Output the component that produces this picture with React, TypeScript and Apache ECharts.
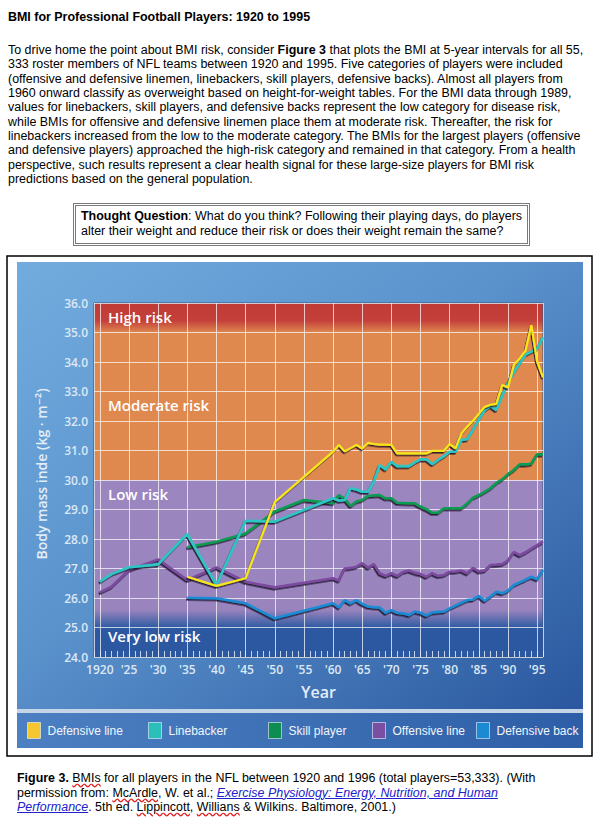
import React, { useEffect, useRef } from "react";
import * as echarts from "echarts";

const X_MIN = 1919;
const X_MAX = 1996;
const Y_MIN = 24;
const Y_MAX = 36;

const seriesNames = ["Defensive line", "Linebacker", "Skill player", "Offensive line", "Defensive back"];

const defensiveLine: [number, number][] = [
  [1935, 26.72], [1940, 26.41], [1945, 26.67], [1950, 29.25], [1960, 30.96], [1961, 31.19], [1962, 30.97],
  [1963, 31.08], [1964, 31.19], [1965, 31.07], [1966, 31.26], [1967, 31.22], [1968, 31.2], [1969, 31.2],
  [1970, 31.19], [1971, 30.9], [1972, 30.9], [1973, 30.9], [1974, 30.9], [1975, 30.9], [1976, 30.9],
  [1977, 30.99], [1978, 30.99], [1979, 30.99], [1980, 31.22], [1981, 31.07], [1982, 31.58], [1983, 31.81],
  [1984, 32.01], [1985, 32.25], [1986, 32.48], [1987, 32.55], [1988, 32.58], [1989, 33.22], [1990, 33.14],
  [1991, 33.9], [1992, 34.12], [1993, 34.38], [1994, 35.25], [1995, 34.01], [1996, 33.48],
];

const linebacker: [number, number][] = [
  [1920, 26.55], [1922, 26.81], [1925, 27.04], [1930, 27.14], [1935, 28.17], [1940, 26.44], [1945, 28.62],
  [1950, 28.59], [1960, 29.38], [1961, 29.3], [1962, 29.32], [1963, 29.72], [1964, 29.68], [1965, 29.6],
  [1966, 29.6], [1967, 29.94], [1968, 30.51], [1969, 30.36], [1970, 30.62], [1971, 30.47], [1972, 30.47],
  [1973, 30.47], [1974, 30.6], [1975, 30.7], [1976, 30.7], [1977, 30.54], [1978, 30.68], [1979, 30.81],
  [1980, 30.96], [1981, 30.96], [1982, 31.36], [1983, 31.38], [1984, 31.7], [1985, 32.05], [1986, 32.37],
  [1987, 32.51], [1988, 32.37], [1989, 32.85], [1990, 33.3], [1991, 33.65], [1992, 33.95], [1993, 34.25],
  [1994, 34.35], [1995, 34.45], [1996, 34.84],
];

const skillPlayer: [number, number][] = [
  [1935, 27.72], [1940, 27.91], [1945, 28.19], [1950, 28.93], [1955, 29.32], [1960, 29.21], [1961, 29.49],
  [1962, 29.35], [1963, 29.12], [1964, 29.27], [1965, 29.32], [1966, 29.46], [1967, 29.48], [1968, 29.49],
  [1969, 29.38], [1970, 29.38], [1971, 29.23], [1972, 29.22], [1973, 29.21], [1974, 29.21], [1975, 29.1],
  [1976, 29.01], [1977, 28.89], [1978, 28.89], [1979, 29.04], [1980, 29.04], [1981, 29.04], [1982, 29.04],
  [1983, 29.2], [1984, 29.4], [1985, 29.49], [1986, 29.6], [1987, 29.72], [1988, 29.9], [1989, 30.02],
  [1990, 30.2], [1991, 30.34], [1992, 30.53], [1993, 30.53], [1994, 30.55], [1995, 30.87], [1996, 30.87],
];

const offensiveLine: [number, number][] = [
  [1920, 26.19], [1922, 26.38], [1925, 26.95], [1930, 27.31], [1935, 26.61], [1940, 27.04], [1945, 26.55],
  [1950, 26.36], [1960, 26.67], [1961, 26.59], [1962, 27.0], [1963, 27.02], [1964, 27.06], [1965, 27.18],
  [1966, 27.03], [1967, 27.15], [1968, 26.84], [1969, 26.75], [1970, 26.84], [1971, 26.75], [1972, 26.88],
  [1973, 26.93], [1974, 26.86], [1975, 26.81], [1976, 26.72], [1977, 26.84], [1978, 26.75], [1979, 26.78],
  [1980, 26.89], [1981, 26.9], [1982, 26.93], [1983, 26.84], [1984, 27.02], [1985, 26.9], [1986, 26.93],
  [1987, 27.12], [1988, 27.13], [1989, 27.15], [1990, 27.27], [1991, 27.56], [1992, 27.45], [1993, 27.55],
  [1994, 27.67], [1995, 27.79], [1996, 27.91],
];

const defensiveBack: [number, number][] = [
  [1935, 26.01], [1940, 25.99], [1945, 25.82], [1950, 25.31], [1960, 25.82], [1961, 25.68], [1962, 25.93],
  [1963, 25.82], [1964, 25.93], [1965, 25.8], [1966, 25.71], [1967, 25.69], [1968, 25.68], [1969, 25.5],
  [1970, 25.59], [1971, 25.5], [1972, 25.48], [1973, 25.42], [1974, 25.54], [1975, 25.5], [1976, 25.4],
  [1977, 25.51], [1978, 25.53], [1979, 25.54], [1980, 25.65], [1981, 25.74], [1982, 25.84], [1983, 25.93],
  [1984, 25.95], [1985, 26.07], [1986, 25.91], [1987, 26.05], [1988, 26.21], [1989, 26.16], [1990, 26.25],
  [1991, 26.44], [1992, 26.53], [1993, 26.62], [1994, 26.72], [1995, 26.63], [1996, 26.95],
];

const bandNames = ["High risk", "Moderate risk", "Low risk", "Very low risk"];
const bandLimits: [number, number][] = [[35, 36], [30, 35], [25, 30], [24, 25]];

const lineColors = ["#F8E51C", "#2EC5C5", "#0F9B52", "#7B4BA0", "#1B8BD4"];
const legendColors = ["#F4C62F", "#2BBFB9", "#0E8D52", "#7A4FA3", "#1C8AD3"];
const legendLefts = [27, 148, 268, 372, 476];

const grad = (stops: [number, string][], horizontal = false) => ({
  type: "linear",
  x: 0,
  y: 0,
  x2: horizontal ? 1 : 0,
  y2: horizontal ? 0 : 1,
  colorStops: stops.map(([offset, color]) => ({ offset, color })),
});

const bandFills = [
  grad([[0, "#C03A36"], [0.6, "#C4403A"], [1, "#DF884F"]]),
  "#E0894F",
  grad([[0, "#9C86C0"], [0.88, "#9A84BE"], [1, "#2E5BA3"]]),
  "#2C58A1",
];
const bandLabelPos: [number, number][] = [[14, 6], [14, 65], [14, 6], [14, 1]];

const axisFont = "'Open Sans', 'DejaVu Sans', sans-serif";

function buildOption() {
  const allData = [defensiveLine, linebacker, skillPlayer, offensiveLine, defensiveBack];
  const drawOrder = [4, 3, 2, 1, 0];
  const lineSeries = drawOrder.map((i) => ({
    type: "line",
    name: seriesNames[i],
    data: allData[i],
    xAxisIndex: 0,
    yAxisIndex: 0,
    symbol: "none",
    showSymbol: false,
    z: 3,
    itemStyle: { color: lineColors[i] },
    lineStyle: {
      color: lineColors[i],
      width: i === 0 ? 2.2 : 2.6,
      shadowColor: "rgba(25,15,40,0.85)",
      shadowBlur: 1,
      shadowOffsetX: -1,
      shadowOffsetY: 1.6,
    },
  }));

  const bandSeries = {
    type: "line",
    name: "bands",
    data: [],
    xAxisIndex: 0,
    yAxisIndex: 0,
    z: 1,
    silent: true,
    markArea: {
      silent: true,
      data: bandNames.map((name, k) => [
        {
          name,
          xAxis: X_MIN,
          yAxis: bandLimits[k][0],
          itemStyle: { color: bandFills[k], opacity: 1 },
          label: {
            show: true,
            position: bandLabelPos[k],
            color: "#FFFFFF",
            fontSize: 15,
            fontFamily: axisFont,
            fontWeight: 600,
          },
        },
        { xAxis: X_MAX, yAxis: bandLimits[k][1] },
      ]),
    },
  };

  const legends = seriesNames.map((name, i) => ({
    show: true,
    left: legendLefts[i],
    top: 722,
    orient: "horizontal",
    icon: "rect",
    itemWidth: 13,
    itemHeight: 16,
    padding: 0,
    selectedMode: false,
    data: [
      {
        name,
        icon: "rect",
        itemStyle: { color: legendColors[i], borderColor: "rgba(255,255,255,0.55)", borderWidth: 1 },
      },
    ],
    textStyle: {
      color: "#F2F6FB",
      fontSize: 12,
      fontFamily: "'Liberation Sans', Arial, sans-serif",
      padding: [0, 0, 0, 2],
    },
  }));

  return {
    animation: false,
    backgroundColor: "transparent",
    grid: {
      left: 94,
      top: 303,
      width: 449,
      height: 354,
      show: true,
      z: 2,
      backgroundColor: "transparent",
      borderColor: "#35527C",
      borderWidth: 1,
    },
    legend: legends,
    xAxis: [
      {
        type: "value",
        min: X_MIN,
        max: X_MAX,
        splitNumber: 15,
        z: 2,
        axisLine: { show: false },
        axisTick: { show: false },
        splitLine: { show: true, lineStyle: { color: "rgba(255,255,255,0.7)", width: 1 } },
        axisLabel: {
          margin: 6,
          color: "#DCE8F6",
          fontSize: 12,
          fontFamily: axisFont,
          fontWeight: 600,
          formatter: (v: number) => {
            if (Math.abs(v % 5) > 1e-6) return "";
            return v === 1920 ? "1920" : "'" + String(Math.round(v)).slice(2);
          },
        },
        name: "Year",
        nameLocation: "middle",
        nameGap: 27,
        nameTextStyle: { color: "#E3EDF8", fontSize: 16, fontFamily: axisFont, fontWeight: 600 },
      },
      {
        type: "value",
        min: X_MIN,
        max: X_MAX,
        interval: 1,
        position: "bottom",
        z: 2,
        axisLine: { show: false },
        axisLabel: { show: false },
        splitLine: { show: false },
        axisTick: { show: true, inside: true, length: 6, lineStyle: { color: "rgba(225,235,250,0.85)", width: 1 } },
      },
    ],
    yAxis: {
      type: "value",
      min: Y_MIN,
      max: Y_MAX,
      interval: 1,
      z: 2,
      axisLine: { show: false },
      axisTick: { show: false },
      splitLine: { show: true, lineStyle: { color: "rgba(255,255,255,0.7)", width: 1 } },
      axisLabel: {
        margin: 6,
        color: "#DCE8F6",
        fontSize: 12,
        fontFamily: axisFont,
        fontWeight: 600,
        formatter: (v: number) => v.toFixed(1),
      },
      name: "Body mass inde (kg · m⁻²)",
      nameLocation: "middle",
      nameGap: 46,
      nameTextStyle: { color: "#E3EDF8", fontSize: 14, fontFamily: axisFont, fontWeight: 600, padding: [0, 0, 0, 12] },
    },
    graphic: [
      {
        type: "rect",
        z: -10,
        silent: true,
        shape: { x: 7, y: 256, width: 585, height: 500 },
        style: { fill: "#FFFFFF", stroke: "#000000", lineWidth: 1.5 },
      },
      {
        type: "rect",
        z: -9,
        silent: true,
        shape: { x: 17, y: 262, width: 566, height: 447 },
        style: {
          fill: {
            type: "linear", x: 0, y: 0, x2: 1, y2: 1,
            colorStops: [
              { offset: 0, color: "#72ACDE" },
              { offset: 0.45, color: "#5A92CC" },
              { offset: 1, color: "#2A579F" },
            ],
          },
        },
      },
      {
        type: "rect",
        z: -9,
        silent: true,
        shape: { x: 17, y: 709, width: 566, height: 4 },
        style: { fill: "#C6D4E7" },
      },
      {
        type: "rect",
        z: -9,
        silent: true,
        shape: { x: 17, y: 713, width: 566, height: 35 },
        style: { fill: grad([[0, "#4C80C2"], [1, "#2D5EA7"]], true) },
      },
    ],
    series: [bandSeries, ...lineSeries],
  };
}

const textFont = "'Liberation Sans', Arial, Helvetica, sans-serif";

const paragraphLines: React.ReactNode[] = [
  <>To drive home the point about BMI risk, consider <b>Figure 3</b> that plots the BMI at 5-year intervals for all 55,</>,
  <>333 roster members of NFL teams between 1920 and 1995. Five categories of players were included</>,
  <>(offensive and defensive linemen, linebackers, skill players, defensive backs). Almost all players from</>,
  <>1960 onward classify as overweight based on height-for-weight tables. For the BMI data through 1989,</>,
  <>values for linebackers, skill players, and defensive backs represent the low category for disease risk,</>,
  <>while BMIs for offensive and defensive linemen place them at moderate risk. Thereafter, the risk for</>,
  <>linebackers increased from the low to the moderate category. The BMIs for the largest players (offensive</>,
  <>and defensive players) approached the high-risk category and remained in that category. From a health</>,
  <>perspective, such results represent a clear health signal for these large-size players for BMI risk</>,
  <>predictions based on the general population.</>,
];

const wavy: React.CSSProperties = {
  textDecorationLine: "underline",
  textDecorationStyle: "wavy",
  textDecorationColor: "#E02020",
};
const link: React.CSSProperties = { color: "#2020CC", fontStyle: "italic", textDecoration: "underline" };

export default function App() {
  const ref = useRef<HTMLDivElement>(null);
  useEffect(() => {
    if (!ref.current) return;
    const chart = echarts.init(ref.current, null, { renderer: "svg" });
    chart.setOption(buildOption() as any);
    return () => chart.dispose();
  }, []);

  const base: React.CSSProperties = {
    position: "absolute",
    fontFamily: textFont,
    fontSize: 12.45,
    color: "#000",
    whiteSpace: "pre",
    pointerEvents: "none",
  };

  return (
    <div style={{ position: "absolute", left: 0, top: 0, width: 601, height: 817, background: "#fff", overflow: "hidden" }}>
      <div ref={ref} style={{ position: "absolute", left: 0, top: 0, width: 601, height: 817 }} />
      <div style={{ ...base, left: 8, top: 10, lineHeight: "14px", fontWeight: "bold" }}>
        BMI for Professional Football Players: 1920 to 1995
      </div>
      <div style={{ ...base, left: 8, top: 43, lineHeight: "14.35px" }}>
        {paragraphLines.map((l, i) => (
          <div key={i}>{l}</div>
        ))}
      </div>
      <div
        style={{
          ...base,
          left: 73,
          top: 203,
          width: 457,
          height: 43,
          boxSizing: "border-box",
          border: "3px double #7A7A7A",
          padding: "3px 0 0 5px",
          lineHeight: "14.5px",
        }}
      >
        <div>
          <b>Thought Question</b>: What do you think? Following their playing days, do players
        </div>
        <div>alter their weight and reduce their risk or does their weight remain the same?</div>
      </div>
      <div style={{ ...base, left: 17, top: 771, lineHeight: "14.6px" }}>
        <div>
          <b>Figure 3.</b> <span style={wavy}>BMIs</span> for all players in the NFL between 1920 and 1996 (total players=53,333). (With
        </div>
        <div>
          permission from: <span style={wavy}>McArdle</span>, W. et al.;{" "}
          <span style={link}>Exercise Physiology: Energy, Nutrition, and Human</span>
        </div>
        <div>
          <span style={link}>Performance</span>. 5th ed. <span style={wavy}>Lippincott</span>,{" "}
          <span style={wavy}>Willians</span> &amp; Wilkins. Baltimore, 2001.)
        </div>
      </div>
    </div>
  );
}
